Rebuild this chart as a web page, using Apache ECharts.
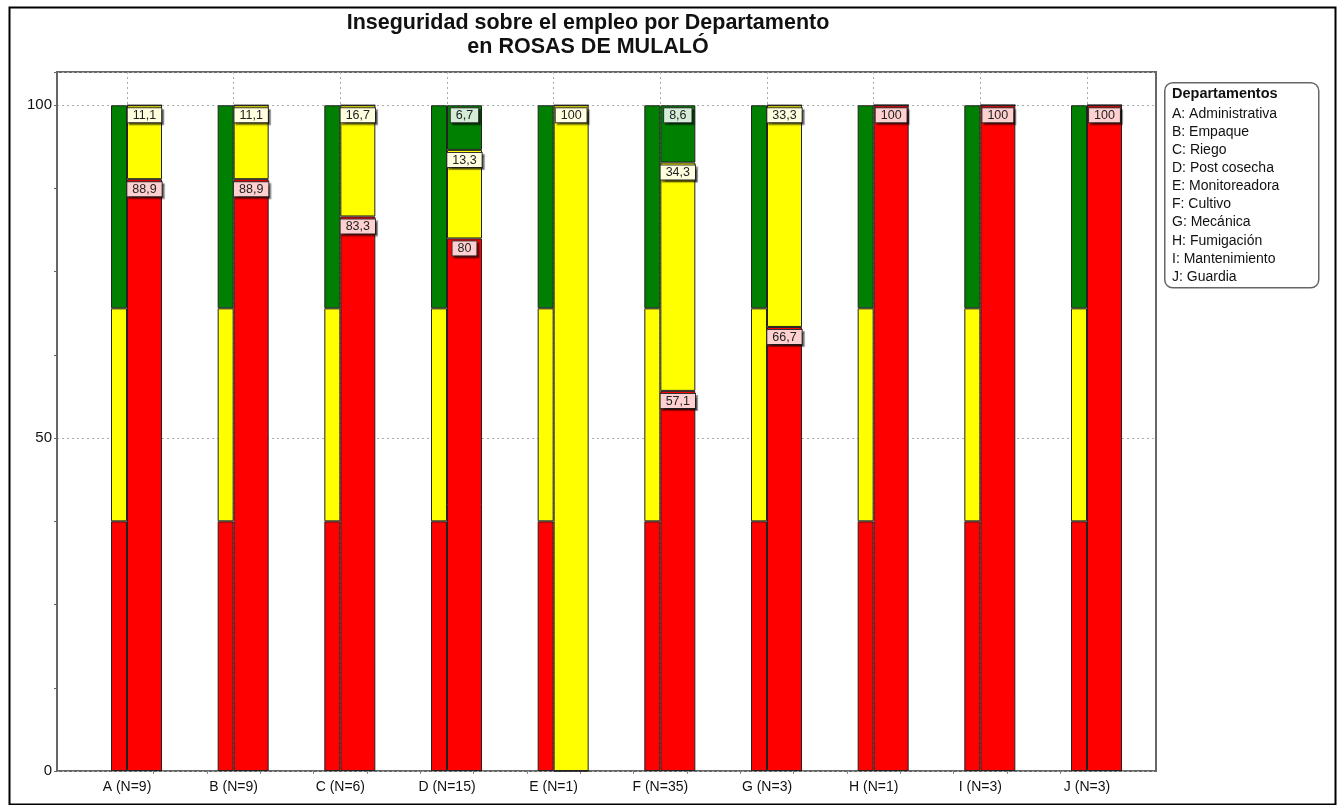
<!DOCTYPE html>
<html>
<head>
<meta charset="utf-8">
<script src="https://cdn.jsdelivr.net/npm/echarts@6/dist/echarts.min.js"></script>
<style>
  html, body { margin: 0; padding: 0; background: #fff; }
  #chart { width: 1342px; height: 805px; }
</style>
</head>
<body>
<div id="chart"></div>
<script>
// departamentos
const deptLetters = ['A', 'B', 'C', 'D', 'E', 'F', 'G', 'H', 'I', 'J'];
const deptNames = ['Administrativa', 'Empaque', 'Riego', 'Post cosecha', 'Monitoreadora',
  'Cultivo', 'Mecánica', 'Fumigación', 'Mantenimiento', 'Guardia'];
const deptN = [9, 9, 6, 15, 1, 35, 3, 1, 3, 3];

// % por nivel de inseguridad (barra ancha)
const pctRed = [88.9, 88.9, 83.3, 80, 0, 57.1, 66.7, 100, 100, 100];
const pctYellow = [11.1, 11.1, 16.7, 13.3, 100, 34.3, 33.3, 0, 0, 0];
const pctGreen = [0, 0, 0, 6.7, 0, 8.6, 0, 0, 0, 0];

// barra de referencia (angosta)
const refRed = [37.5, 37.5, 37.5, 37.5, 37.5, 37.5, 37.5, 37.5, 37.5, 37.5];
const refYellow = [32, 32, 32, 32, 32, 32, 32, 32, 32, 32];
const refGreen = [30.5, 30.5, 30.5, 30.5, 30.5, 30.5, 30.5, 30.5, 30.5, 30.5];

const yTickLabels = [0, 50, 100];

const FONT = "'Liberation Sans', Arial, sans-serif";
const RED = '#ff0000', YELLOW = '#ffff00', GREEN = '#008000';

const categories = deptLetters.map((l, i) => l + ' (N=' + deptN[i] + ')');

function refSeries(name, data, color) {
  return {
    name: name, type: 'bar', stack: 'ref', xAxisIndex: 1, yAxisIndex: 2,
    barWidth: 16, barGap: '0%',
    itemStyle: { color: color, borderColor: '#222', borderWidth: 1 },
    data: data
  };
}

function dataSeries(name, data, color, labelBg) {
  return {
    name: name, type: 'bar', stack: 'dat', xAxisIndex: 1, yAxisIndex: 2,
    barWidth: 35, barGap: '0%',
    itemStyle: { color: color, borderColor: '#222', borderWidth: 1 },
    label: {
      show: true, position: 'insideTop', distance: 3,
      fontFamily: FONT, fontSize: 12.5, color: '#222',
      backgroundColor: labelBg, borderColor: '#333', borderWidth: 1,
      padding: [1, 5, 0, 5],
      shadowColor: 'rgba(0,0,0,0.45)', shadowOffsetX: 2, shadowOffsetY: 2, shadowBlur: 1,
      formatter: p => String(p.value).replace('.', ',')
    },
    data: data.map(v => v === 0 ? { value: 0, label: { show: false } } : v)
  };
}

const chart = echarts.init(document.getElementById('chart'), null, { renderer: 'canvas' });

const legendItems = [{
  type: 'text', left: 1172, top: 86,
  style: { text: 'Departamentos', font: 'bold 14.5px ' + FONT, fill: '#111' }
}];
deptLetters.forEach((l, i) => {
  legendItems.push({
    type: 'text', left: 1172, top: 107 + i * 18.1,
    style: { text: l + ': ' + deptNames[i], font: '14px ' + FONT, fill: '#111' }
  });
});

const option = {
  animation: false,
  backgroundColor: '#fff',
  grid: [
    { left: 57, top: 72, width: 1099, height: 699, show: true, borderColor: '#666', borderWidth: 2 },
    { left: 127, top: 72, width: 960, height: 699 }
  ],
  xAxis: [
    { gridIndex: 0, type: 'value', min: 0, max: 1, show: false },
    {
      gridIndex: 1, type: 'category', data: categories, boundaryGap: false, position: 'bottom',
      axisLine: { show: false }, axisTick: { show: false },
      axisLabel: { fontFamily: FONT, fontSize: 14, color: '#111', margin: 9 },
      splitLine: { show: true, lineStyle: { color: '#aaa', type: [2, 3], width: 1 } }
    },
    {
      gridIndex: 1, type: 'value', min: 0, max: 9, interval: 0.5, position: 'bottom',
      axisLine: { show: false }, axisTick: { show: false }, axisLabel: { show: false },
      splitLine: { show: false },
      minorTick: { show: true, splitNumber: 2, length: 3, lineStyle: { color: '#888' } }
    }
  ],
  yAxis: [
    {
      gridIndex: 0, type: 'value', min: 0, max: 105, interval: 12.5,
      axisLine: { show: true, lineStyle: { color: '#666', width: 2 } },
      axisTick: { show: true, length: 3, lineStyle: { color: '#666' } },
      axisLabel: {
        fontFamily: FONT, fontSize: 15, color: '#111', margin: 5,
        formatter: v => yTickLabels.indexOf(v) >= 0 ? String(v) : ''
      },
      splitLine: { show: false }
    },
    {
      gridIndex: 0, type: 'value', min: 0, max: 105, interval: 50, position: 'left',
      axisLine: { show: false }, axisTick: { show: false }, axisLabel: { show: false },
      splitLine: { show: true, lineStyle: { color: '#aaa', type: [2, 3], width: 1 } }
    },
    { gridIndex: 1, type: 'value', min: 0, max: 105, show: false }
  ],
  graphic: [
    {
      type: 'rect', left: 7, top: 5, z: 100, silent: true,
      shape: { width: 1326, height: 797 },
      style: { fill: 'none', stroke: '#000', lineWidth: 2 }
    },
    {
      type: 'text', x: 588, y: 23,
      style: { text: 'Inseguridad sobre el empleo por Departamento', font: 'bold 21.5px ' + FONT,
        fill: '#111', textAlign: 'center', textVerticalAlign: 'middle' }
    },
    {
      type: 'text', x: 588, y: 47,
      style: { text: 'en ROSAS DE MULALÓ', font: 'bold 21.5px ' + FONT,
        fill: '#111', textAlign: 'center', textVerticalAlign: 'middle' }
    },
    {
      type: 'rect', left: 1164, top: 82,
      shape: { width: 154, height: 205, r: 8 },
      style: { fill: '#fff', stroke: '#666', lineWidth: 1.5 }
    }
  ].concat(legendItems),
  series: [
    // hueco para que la barra angosta termine en el centro de la categoría
    { name: 'spacer', type: 'bar', xAxisIndex: 1, yAxisIndex: 2, barWidth: 19, barGap: '0%', data: [] },
    refSeries('ref-rojo', refRed, RED),
    refSeries('ref-amarillo', refYellow, YELLOW),
    refSeries('ref-verde', refGreen, GREEN),
    dataSeries('Rojo', pctRed, RED, '#ffd0d0'),
    dataSeries('Amarillo', pctYellow, YELLOW, '#ffffe0'),
    dataSeries('Verde', pctGreen, GREEN, '#d4ecd8')
  ]
};

chart.setOption(option);
</script>
</body>
</html>
